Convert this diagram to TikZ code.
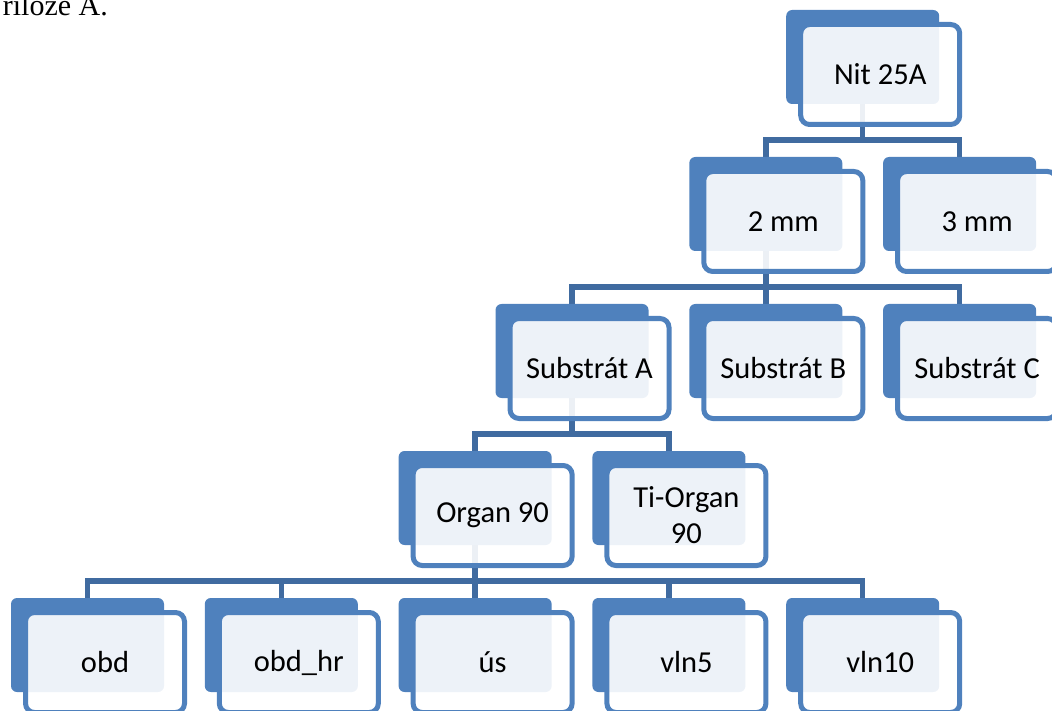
\documentclass[tikz,border=0pt]{standalone}
\usepackage{fontspec}
\setmainfont{Carlito}
\newfontfamily\textserif{Liberation Serif}
\usetikzlibrary{positioning}
\definecolor{boxblue}{RGB}{79,129,189}
\definecolor{branchblue}{RGB}{64,107,160}
\pgfdeclarelayer{background}
\pgfsetlayers{background,main}
\tikzset{
    backbox/.style={rectangle, rounded corners=6pt, fill=boxblue, draw=none,
        minimum width=153pt, minimum height=94pt, inner sep=0pt, outer sep=0pt,
        anchor=north west},
    frontbox/.style={rectangle, rounded corners=9pt, draw=boxblue, line width=5pt,
        fill=white, fill opacity=0.9, text opacity=1, text=black,
        minimum width=159pt, minimum height=100pt, inner sep=0pt, outer sep=0pt,
        anchor=north west, align=center, font=\fontsize{30.5}{36}\selectfont},
    branch/.style={draw=branchblue, line width=5.5pt},
}
% back plate at (#2,#3), lighter card shifted down right
\newcommand{\orgnode}[4]{%
    \node[backbox] (#1-b) at (#2,#3) {};
    \node[frontbox] (#1) at ({#2+14.5},{#3+14.5}) {#4};
}

\begin{document}
\begin{tikzpicture}[x=1pt,y=1pt,yscale=-1,xscale=1]
    \useasboundingbox (0,0) rectangle (1052,711);

    % running text above the chart
    \node[anchor=base east, inner sep=0pt, font=\textserif\fontsize{30}{36}\selectfont] (caption) at (108,16) {riloze A.};

    % level 1
    \orgnode{nit}{786.2}{10}{Nit 25A}
    % level 2
    \orgnode{mmtwo}{689.3}{157}{2 mm}
    \orgnode{mmthree}{883.1}{157}{3 mm}
    % level 3
    \orgnode{subA}{495.5}{304}{Substrát A}
    \orgnode{subB}{689.3}{304}{Substrát B}
    \orgnode{subC}{883.1}{304}{Substrát C}
    % level 4
    \orgnode{organ}{398.6}{451}{Organ 90}
    \orgnode{tiorgan}{592.4}{451}{Ti-Organ\\90}
    % level 5
    \orgnode{obd}{11}{598}{obd}
    \orgnode{obdhr}{204.8}{598}{obd\_hr}
    \orgnode{us}{398.6}{598}{ús}
    \orgnode{vlnfive}{592.4}{598}{vln5}
    \orgnode{vlnten}{786.2}{598}{vln10}

    % connectors
    \begin{pgfonlayer}{background}
        \foreach \child in {mmtwo,mmthree}
            \draw[branch] (\child-b.north) -- ++(0,-17) -| (nit-b.south);
        \foreach \child in {subA,subB,subC}
            \draw[branch] (\child-b.north) -- ++(0,-17) -| (mmtwo-b.south);
        \foreach \child in {organ,tiorgan}
            \draw[branch] (\child-b.north) -- ++(0,-17) -| (subA-b.south);
        \foreach \child in {obd,obdhr,us,vlnfive,vlnten}
            \draw[branch] (\child-b.north) -- ++(0,-17) -| (organ-b.south);
    \end{pgfonlayer}
\end{tikzpicture}
\end{document}
